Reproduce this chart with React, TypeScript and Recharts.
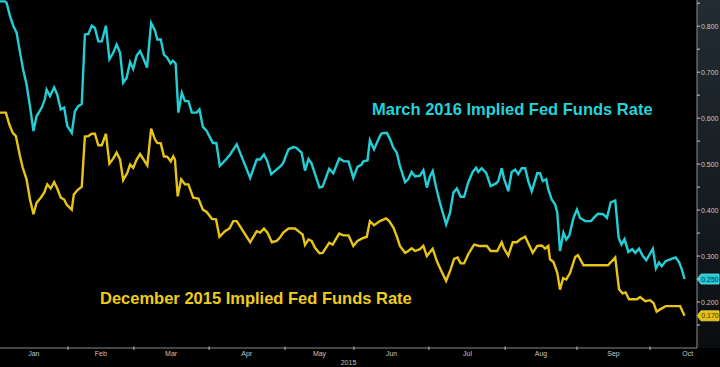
import React from 'react';
import { LineChart, Line, XAxis, YAxis, ReferenceLine } from 'recharts';

// trading-day index (from Jan 2, 2015) and implied rate
const marchDays = [
  0, 1.4, 1.9, 2.9, 3.9, 4.8, 5.8, 6.7, 7.7, 8.7,
  9.7, 10.6, 12.1, 13.0, 13.5, 14.5, 15.7, 16.6, 17.6, 18.6,
  19.5, 20.8, 21.7, 22.7, 23.7, 24.6, 25.6, 26.6, 27.5, 28.5,
  29.5, 30.7, 31.7, 32.8, 33.8, 34.8, 35.7, 36.7, 37.7, 38.6,
  39.6, 40.6, 41.5, 42.6, 43.8, 44.9, 45.6, 46.6, 47.5, 48.4,
  49.4, 50.1, 50.9, 51.7, 52.7, 53.6, 54.6, 55.6, 57.0, 57.8,
  58.8, 59.9, 61.7, 62.7, 63.7, 65.6, 66.7, 68.6, 72.5, 74.4,
  75.4, 76.5, 77.5, 78.6, 81.4, 82.1, 83.6, 85.0, 85.8, 87.4,
  88.4, 89.4, 90.3, 91.3, 92.6, 93.5, 95.4, 96.6, 98.3, 99.7,
  101.0, 102.4, 103.6, 104.8, 105.3, 106.5, 107.2, 108.4, 110.1, 110.6,
  112.1, 113.0, 114.0, 115.0, 115.9, 117.4, 118.3, 119.3, 120.3, 121.7,
  122.7, 123.7, 124.6, 125.4, 126.4, 127.5, 129.3, 130.4, 131.4, 132.4,
  133.5, 134.5, 135.7, 137.0, 138.0, 138.6, 139.6, 140.9, 142.2, 143.8,
  144.4, 145.4, 146.1, 147.3, 148.3, 149.3, 150.2, 151.2, 152.2, 153.1,
  154.1, 155.7, 156.5, 157.3, 158.3, 158.9, 159.9, 160.9, 161.5, 162.3,
  163.3, 164.1, 165.0, 166.2, 167.2, 168.1, 169.6, 171.3, 172.2, 173.3,
  174.8, 175.9, 177.0, 178.3, 179.3, 180.1, 181.0, 182.1, 183.2, 184.1,
  185.2, 186.3, 187.3, 189.2, 190.1, 191.0, 191.8, 192.9, 194.2, 195.8,
  196.8, 197.6, 198.4,
];
const marchRates = [
  0.854, 0.854, 0.851, 0.822, 0.800, 0.786, 0.743, 0.706, 0.673, 0.625,
  0.572, 0.604, 0.623, 0.641, 0.662, 0.648, 0.667, 0.651, 0.619, 0.623,
  0.583, 0.568, 0.615, 0.626, 0.631, 0.782, 0.783, 0.801, 0.796, 0.767,
  0.767, 0.801, 0.728, 0.742, 0.760, 0.742, 0.677, 0.688, 0.722, 0.707,
  0.736, 0.746, 0.731, 0.710, 0.807, 0.791, 0.771, 0.771, 0.738, 0.732,
  0.719, 0.725, 0.719, 0.612, 0.655, 0.637, 0.637, 0.612, 0.612, 0.619,
  0.581, 0.572, 0.546, 0.546, 0.496, 0.511, 0.521, 0.543, 0.470, 0.510,
  0.510, 0.521, 0.506, 0.478, 0.496, 0.503, 0.532, 0.537, 0.536, 0.525,
  0.486, 0.511, 0.501, 0.478, 0.449, 0.451, 0.490, 0.480, 0.512, 0.506,
  0.506, 0.470, 0.494, 0.499, 0.506, 0.508, 0.552, 0.532, 0.561, 0.567,
  0.568, 0.555, 0.536, 0.525, 0.496, 0.461, 0.467, 0.483, 0.473, 0.475,
  0.487, 0.449, 0.473, 0.485, 0.449, 0.416, 0.369, 0.394, 0.438, 0.447,
  0.429, 0.429, 0.460, 0.483, 0.492, 0.483, 0.491, 0.481, 0.452, 0.458,
  0.463, 0.491, 0.468, 0.441, 0.483, 0.488, 0.478, 0.491, 0.491, 0.463,
  0.441, 0.480, 0.480, 0.463, 0.467, 0.445, 0.423, 0.412, 0.395, 0.311,
  0.351, 0.336, 0.345, 0.383, 0.401, 0.383, 0.376, 0.376, 0.384, 0.392,
  0.391, 0.383, 0.417, 0.421, 0.340, 0.325, 0.337, 0.309, 0.315, 0.307,
  0.316, 0.300, 0.291, 0.316, 0.273, 0.286, 0.278, 0.289, 0.293, 0.297,
  0.287, 0.271, 0.250,
];

const decDays = [
  0, 1.7, 2.7, 3.7, 4.6, 5.8, 6.6, 7.7, 8.7, 9.7,
  10.6, 11.8, 12.8, 13.7, 14.7, 15.7, 16.6, 17.6, 18.6, 19.3,
  20.8, 21.4, 22.4, 23.7, 24.6, 25.6, 26.6, 27.5, 28.5, 29.5,
  30.7, 31.7, 32.8, 33.8, 34.8, 35.7, 36.9, 37.7, 38.6, 39.6,
  40.6, 42.7, 43.8, 44.9, 45.6, 46.6, 47.5, 48.5, 49.5, 50.2,
  50.7, 51.5, 52.5, 53.6, 54.6, 56.0, 57.5, 58.8, 59.9, 61.4,
  62.6, 63.6, 65.2, 66.5, 67.6, 68.6, 72.5, 74.4, 75.4, 76.5,
  77.5, 78.8, 80.2, 81.2, 82.1, 83.6, 85.5, 87.0, 87.7, 88.4,
  89.4, 90.3, 91.3, 92.6, 93.5, 95.4, 96.4, 98.3, 99.5, 101.0,
  102.4, 103.6, 104.8, 106.3, 107.2, 108.4, 110.1, 111.9, 112.8, 114.0,
  115.0, 115.9, 117.4, 118.3, 119.3, 120.3, 121.7, 122.7, 123.7, 125.4,
  126.6, 127.7, 129.3, 130.6, 131.6, 132.6, 133.5, 134.5, 135.7, 137.4,
  138.9, 141.1, 142.2, 144.1, 145.4, 146.1, 147.3, 148.6, 149.8, 150.7,
  152.2, 153.1, 154.4, 155.7, 157.0, 158.0, 158.9, 159.4, 160.4, 161.5,
  162.3, 163.2, 164.1, 165.2, 166.7, 167.5, 169.1, 176.2, 178.3, 179.4,
  180.4, 181.3, 182.3, 184.6, 185.5, 187.0, 188.4, 189.4, 190.3, 191.3,
  192.9, 197.1, 198.4,
];
const decRates = [
  0.612, 0.612, 0.586, 0.568, 0.561, 0.517, 0.492, 0.467, 0.423, 0.391,
  0.416, 0.427, 0.438, 0.456, 0.447, 0.461, 0.447, 0.427, 0.423, 0.412,
  0.401, 0.434, 0.443, 0.451, 0.560, 0.561, 0.566, 0.566, 0.541, 0.541,
  0.566, 0.501, 0.512, 0.525, 0.510, 0.465, 0.481, 0.499, 0.492, 0.510,
  0.522, 0.497, 0.577, 0.554, 0.546, 0.545, 0.517, 0.516, 0.506, 0.517,
  0.510, 0.430, 0.467, 0.456, 0.456, 0.427, 0.425, 0.401, 0.396, 0.381,
  0.380, 0.342, 0.354, 0.360, 0.376, 0.376, 0.330, 0.354, 0.351, 0.360,
  0.351, 0.330, 0.333, 0.341, 0.351, 0.360, 0.360, 0.351, 0.347, 0.324,
  0.336, 0.333, 0.318, 0.306, 0.307, 0.329, 0.325, 0.349, 0.345, 0.345,
  0.322, 0.333, 0.338, 0.342, 0.376, 0.367, 0.376, 0.382, 0.376, 0.362,
  0.343, 0.322, 0.307, 0.311, 0.317, 0.311, 0.315, 0.322, 0.300, 0.316,
  0.289, 0.271, 0.246, 0.271, 0.294, 0.297, 0.284, 0.284, 0.304, 0.325,
  0.322, 0.322, 0.311, 0.311, 0.330, 0.316, 0.301, 0.330, 0.330, 0.336,
  0.342, 0.328, 0.307, 0.322, 0.323, 0.316, 0.322, 0.293, 0.287, 0.264,
  0.227, 0.252, 0.249, 0.263, 0.298, 0.302, 0.280, 0.280, 0.297, 0.228,
  0.219, 0.221, 0.206, 0.206, 0.211, 0.202, 0.204, 0.198, 0.179, 0.184,
  0.191, 0.191, 0.170,
];

const monthStarts = [19.7, 38.8, 60.6, 82.6, 102.6, 124.3, 146.4, 167.2, 188.4];
const monthCenters = [9.8, 29.2, 49.6, 71.5, 92.6, 113.5, 135.5, 156.8, 177.8, 199.3];
const monthNames = ['Jan', 'Feb', 'Mar', 'Apr', 'May', 'Jun', 'Jul', 'Aug', 'Sep', 'Oct'];
const yearLabel = '2015';
const rateTicks = [0.15, 0.2, 0.25, 0.3, 0.35, 0.4, 0.45, 0.5, 0.55, 0.6, 0.65, 0.7, 0.75, 0.8, 0.85];
const seriesNames = ['March 2016 Implied Fed Funds Rate', 'December 2015 Implied Fed Funds Rate'];

const CYAN = '#22cfd6';
const YELLOW = '#e8c416';
const FONT = '"Liberation Sans", Arial, sans-serif';

const marchData = marchDays.map((d, i) => ({ d, v: marchRates[i] }));
const decData = decDays.map((d, i) => ({ d, v: decRates[i] }));
const xTicks = [...monthStarts, ...monthCenters].sort((a, b) => a - b);

const XTick = (props: any) => {
  const { x, y, payload } = props;
  const v = payload.value;
  const si = monthStarts.indexOf(v);
  if (si >= 0) {
    return <line x1={x} x2={x} y1={y - 1.5} y2={y + 2} stroke="#bdbdbd" strokeWidth={1} />;
  }
  const ci = monthCenters.indexOf(v);
  if (ci < 0) return null;
  return (
    <text x={x} y={y + 8} textAnchor="middle" fill="#c4c4c4" fontSize={7} fontFamily={FONT}>
      {monthNames[ci]}
    </text>
  );
};

const YTick = (props: any) => {
  const { x, y, payload } = props;
  const v = payload.value;
  const major = Math.round(v * 100) % 10 === 0;
  return (
    <g>
      <line x1={x} x2={x + 3} y1={y} y2={y} stroke="#c8c8c8" strokeWidth={1} />
      {major && (
        <text x={x + 4} y={y + 2.5} fill="#c8c8c8" fontSize={7} fontFamily={FONT}>
          {v.toFixed(3)}
        </text>
      )}
    </g>
  );
};

const Tag = (props: any) => {
  const { viewBox, fill, stroke, textFill, text } = props;
  if (!viewBox) return null;
  const X = viewBox.x + viewBox.width;
  const Y = viewBox.y;
  const pts = `${X},${Y} ${X + 4},${Y - 5} ${X + 22},${Y - 5} ${X + 22},${Y + 5} ${X + 4},${Y + 5}`;
  return (
    <g>
      <polygon points={pts} fill={fill} stroke={stroke} strokeWidth={0.8} />
      <text x={X + 13} y={Y + 2.5} textAnchor="middle" fill={textFill} fontSize={7} fontFamily={FONT}>
        {text}
      </text>
    </g>
  );
};

export default function App() {
  const lastMarch = marchRates[marchRates.length - 1];
  const lastDec = decRates[decRates.length - 1];
  return (
    <div style={{ position: 'absolute', left: 0, top: 0, width: 720, height: 367, background: '#000', overflow: 'hidden' }}>
      <div
        style={{
          position: 'absolute',
          left: 697,
          top: 0,
          width: 23,
          height: 348,
          background: 'linear-gradient(#222c33, #151b20 60%, #0a0d10)',
        }}
      />
      <LineChart width={720} height={367} margin={{ top: 0, right: 0, bottom: 0, left: 0 }}>
        <XAxis
          type="number"
          dataKey="d"
          domain={[0, 202]}
          ticks={xTicks}
          interval={0}
          height={19}
          axisLine={{ stroke: '#8c8c8c', strokeWidth: 1 }}
          tickLine={false}
          tickSize={0}
          tickMargin={0}
          tick={<XTick />}
          allowDataOverflow
          label={{ value: yearLabel, position: 'insideBottom', offset: 2.5, fill: '#c4c4c4', fontSize: 7, fontFamily: FONT }}
        />
        <YAxis
          orientation="right"
          type="number"
          width={23}
          domain={[0.1, 0.857]}
          ticks={rateTicks}
          interval={0}
          axisLine={{ stroke: '#8c8c8c', strokeWidth: 1 }}
          tickLine={false}
          tickSize={0}
          tickMargin={0}
          tick={<YTick />}
          allowDataOverflow
        />
        <Line
          data={marchData}
          dataKey="v"
          name={seriesNames[0]}
          stroke={CYAN}
          strokeWidth={2.4}
          dot={false}
          activeDot={false}
          isAnimationActive={false}
        />
        <Line
          data={decData}
          dataKey="v"
          name={seriesNames[1]}
          stroke={YELLOW}
          strokeWidth={2.4}
          dot={false}
          activeDot={false}
          isAnimationActive={false}
        />
        <ReferenceLine
          y={lastMarch}
          strokeOpacity={0}
          label={<Tag fill="#20c8cf" stroke="#6fe6ea" textFill="#063a3d" text={lastMarch.toFixed(3)} />}
        />
        <ReferenceLine
          y={lastDec}
          strokeOpacity={0}
          label={<Tag fill="#e3c012" stroke="#f3d84a" textFill="#3d3200" text={lastDec.toFixed(3)} />}
        />
      </LineChart>
      <svg
        width={720}
        height={367}
        style={{ position: 'absolute', left: 0, top: 0, pointerEvents: 'none' }}
      >
        <text x={372} y={114.5} fill="#24d3da" fontSize={16.5} fontWeight="bold" fontFamily={FONT}>
          {seriesNames[0]}
        </text>
        <text x={100} y={303.5} fill="#f0cc1a" fontSize={16.5} fontWeight="bold" fontFamily={FONT}>
          {seriesNames[1]}
        </text>
      </svg>
    </div>
  );
}
